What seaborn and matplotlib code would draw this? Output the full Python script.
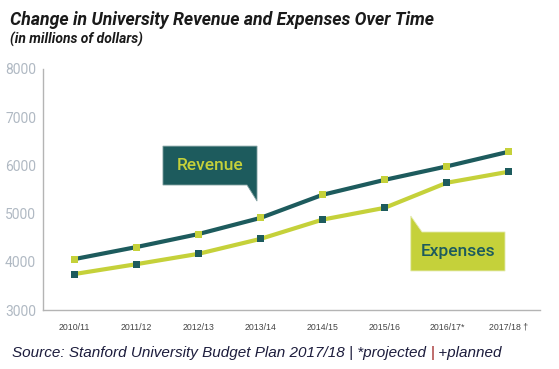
import pandas as pd
import matplotlib.pyplot as plt
import seaborn as sns
from matplotlib.patches import Polygon
from matplotlib.ticker import FixedLocator

# data (millions of dollars)
years = ['2010/11', '2011/12', '2012/13', '2013/14', '2014/15', '2015/16', '2016/17', '2017/18']
tick_labels = ['2010/11', '2011/12', '2012/13', '2013/14', '2014/15', '2015/16', '2016/17*', '2017/18 \u2020']
revenue = [4055, 4305, 4575, 4910, 5390, 5700, 5980, 6285]
expenses = [3745, 3950, 4165, 4475, 4875, 5120, 5640, 5870]

teal = '#1d5b5d'
lime = '#c5d13a'

df = pd.DataFrame({'year': years * 2,
                   'value': revenue + expenses,
                   'series': ['Revenue'] * len(years) + ['Expenses'] * len(years)})

sns.set_style('white')
narrow = ['Roboto', 'DejaVu Sans']
plt.rcParams['font.family'] = ['Liberation Sans', 'DejaVu Sans']

fig = plt.figure(figsize=(5.59, 3.69), dpi=100)
ax = fig.add_axes([43 / 559, 1 - 310 / 369, 497 / 559, 241 / 369])

sns.lineplot(data=df, x='year', y='value', hue='series',
             palette={'Revenue': teal, 'Expenses': lime},
             linewidth=3, legend=False, ax=ax, zorder=2)
# squares in the other series' colour
sns.scatterplot(data=df, x='year', y='value', hue='series',
                palette={'Revenue': lime, 'Expenses': teal},
                marker='s', s=26, linewidth=0, legend=False, ax=ax, zorder=3)

ax.set_xlim(-0.5, 7.5)
ax.set_ylim(3000, 8000)
ax.set_yticks([3000, 4000, 5000, 6000, 7000, 8000])
ax.set_xticks(range(len(years)))
ax.set_xticklabels(tick_labels)
ax.xaxis.set_minor_locator(FixedLocator([i + 0.5 for i in range(len(years))]))
ax.set_xlabel('')
ax.set_ylabel('')

for side in ['top', 'right']:
    ax.spines[side].set_visible(False)
for side in ['left', 'bottom']:
    ax.spines[side].set_color('#b4b4b4')
    ax.spines[side].set_linewidth(1)

ax.tick_params(axis='y', direction='in', length=9, width=1, color='#b4b4b4',
               pad=5, labelsize=10, labelcolor='#b0b9c3')
for lab in ax.get_yticklabels():
    lab.set_family(narrow)
ax.tick_params(axis='x', which='major', length=0, pad=9, labelsize=6.3, labelcolor='#444444')
ax.tick_params(axis='x', which='minor', direction='in', length=4, width=1, color='#b4b4b4')

# callout boxes (axes fraction)
rev_box = Polygon([(0.2414, 0.5187), (0.2414, 0.680), (0.4306, 0.680), (0.4306, 0.452),
                   (0.4105, 0.5187)], closed=True, transform=ax.transAxes,
                  facecolor=teal, edgecolor='#7f9fa0', linewidth=0.6, zorder=4)
ax.add_patch(rev_box)
ax.text(0.336, 0.600, 'Revenue', transform=ax.transAxes, ha='center', va='center',
        color=lime, fontsize=12.5, fontweight='medium', family=narrow, zorder=5)

exp_box = Polygon([(0.740, 0.390), (0.7626, 0.3237), (0.9296, 0.3237), (0.9296, 0.162),
                   (0.740, 0.162)], closed=True, transform=ax.transAxes,
                  facecolor=lime, edgecolor='#e4ebb0', linewidth=0.6, zorder=4)
ax.add_patch(exp_box)
ax.text(0.835, 0.243, 'Expenses', transform=ax.transAxes, ha='center', va='center',
        color=teal, fontsize=12.5, fontweight='medium', family=narrow, zorder=5)

# titles
fig.text(10 / 559, 1 - 25 / 369, 'Change in University Revenue and Expenses Over Time',
         fontsize=12.7, fontweight='bold', style='italic', family=narrow,
         color='#1a1a1a', va='baseline')
fig.text(10 / 559, 1 - 44 / 369, '(in millions of dollars)',
         fontsize=10, fontweight='bold', style='italic', family=narrow,
         color='#1a1a1a', va='baseline')

# source line with a red separator
navy = '#1c1c3c'
t1 = fig.text(12 / 559, 1 - 357 / 369, 'Source: Stanford University Budget Plan 2017/18 | *projected ',
              fontsize=11, style='italic', color=navy, va='baseline')
t2 = ax.annotate('|', xy=(1, 0), xycoords=t1, va='bottom', ha='left',
                 fontsize=11, color='#9b1c1c', annotation_clip=False)
ax.annotate(' +planned', xy=(1, 0), xycoords=t2, va='bottom', ha='left',
            fontsize=11, style='italic', color=navy, annotation_clip=False)

fig.savefig('out.png', dpi=100)
